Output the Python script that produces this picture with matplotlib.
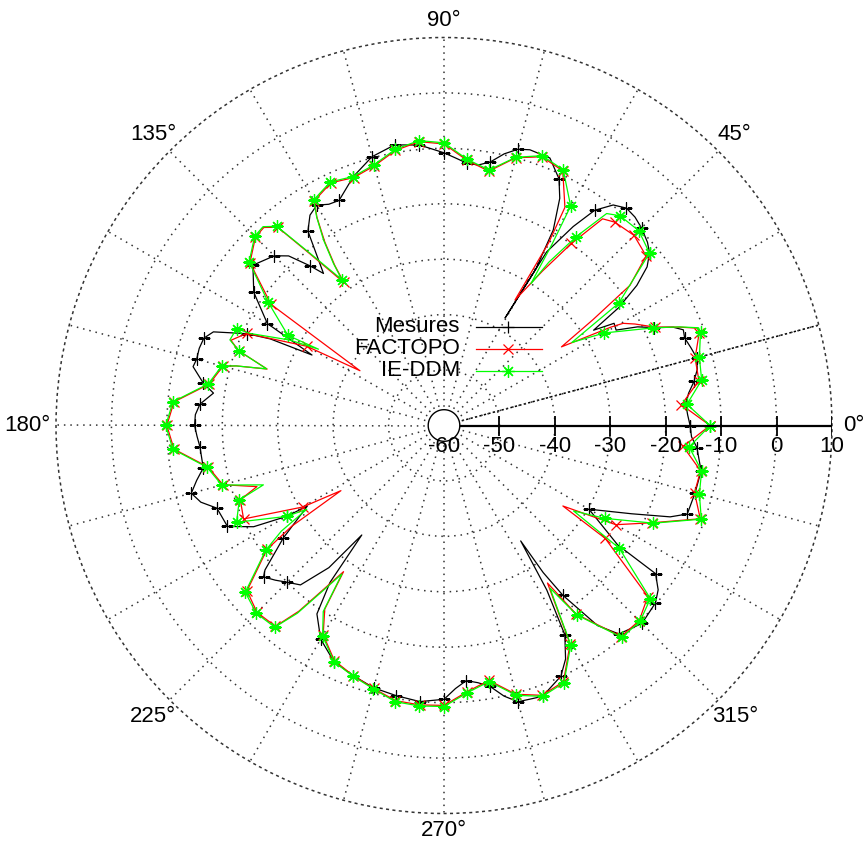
import numpy as np
import matplotlib
matplotlib.use("Agg")
import matplotlib.pyplot as plt
from matplotlib.transforms import offset_copy
from matplotlib.lines import Line2D

plt.rcParams['font.family'] = ['Liberation Sans', 'DejaVu Sans']

# ---------------- data (angle in degrees, level in dB) ----------------
theta_mes = [0, 2.5, 5, 7.5, 10, 12.5, 15, 17.5, 20, 21.8, 23.2, 25, 27, 29, 31, 32.5, 34, 36, 38, 40, 42, 45,
             47.5, 50, 52.5, 55, 57, 59.4, 60.4, 59.6, 60.8, 63, 65, 68.4, 72.7, 75, 77.5, 80, 82.5, 85, 87.5,
             90, 95, 100, 105, 110, 112.5, 115, 117.5, 120, 122.5, 125, 128.4, 130, 132.5, 135, 140, 145,
             150, 151.9, 153.5, 155, 157.9, 160, 162.5, 165, 166.8, 170, 172, 175, 177.5, 180, 182.5, 185,
             190, 192.5, 195, 197.5, 200, 205, 208, 210, 210.5, 215, 218.9, 220, 222.5, 225, 228, 231, 233.1,
             234, 236, 240, 245, 250, 255, 260, 265, 270, 272.5, 275, 277.5, 280, 282.5, 285, 290, 295, 297.5,
             300, 302, 303.6, 304, 305, 307.5, 310, 315, 320, 322.5, 325, 325.5, 330, 334.8, 338, 340, 345,
             350, 355, 357.4, 360]
db_mes = [-15.6, -16.0, -16.2, -15.5, -14.2, -13.2, -12.8, -13.3, -13.8, -13.5, -15, -18.2, -20.8, -24.5,
          -24.2, -28, -22, -17, -13.5, -11.6, -10.6, -9.6, -9.0, -8.8, -9.85, -12.6, -17.2, -23.6, -37.7,
          -27.3, -19.6, -14, -10.9, -8.1, -7.9, -8.4, -9.8, -11.7, -12.6, -12.5, -11.7, -10.8, -9.2, -8.6,
          -9.8, -12.2, -13.8, -15.2, -15.0, -14.1, -15.0, -17.2, -25, -22.4, -18.5, -16.7, -15, -18.1,
          -23.2, -33, -25, -20.8, -15.1, -13.9, -13.7, -13.8, -13.5, -15.9, -18, -15.8, -15.1, -15, -15.4,
          -15.8, -15.9, -14.3, -12.8, -14.0, -16.4, -16.9, -21.1, -27.2, -31.4, -24.6, -18.5, -17.5, -18.7,
          -20, -21.3, -27, -35.3, -25, -19, -15.5, -13, -12, -11, -10.5, -10, -10.6, -12.5, -13.8, -13.2,
          -12.2, -10.0, -8.4, -8, -10.1, -12.5, -16.4, -25, -35, -28, -22.6, -14.5, -10.9, -9.5, -10.2,
          -11.3, -13.4, -22, -29.8, -22.6, -16, -13.3, -13.1, -12.9, -14.2, -15.3, -15.6]

theta_fac = [0, 5, 10, 15, 20, 21, 22.7, 25, 28, 29.7, 30.5, 33.8, 35.4, 37, 40, 45, 50, 52.5, 55, 57.5,
             60.5, 60.2, 61, 65, 70, 75, 80, 85, 90, 95, 100, 105, 110, 115, 120, 121.4, 123, 124.3, 125,
             127.9, 130, 132.3, 135, 140, 145, 146.9, 150, 155, 158.2, 160, 162.3, 164, 165, 170, 175, 180,
             185, 190, 195, 198.1, 200, 205, 210, 212.3, 213.5, 215, 220, 225, 230, 232, 235.5, 237, 240, 245,
             250, 255, 260, 265, 270, 275, 280, 285, 290, 295, 300, 303.3, 305, 310, 315, 320, 325, 325.9,
             330, 335, 340, 345, 350, 355, 360]
db_fac = [-12, -17, -13.3, -13.1, -11, -11, -14, -18, -21, -22.8, -25, -34.5, -27, -18, -12.4, -11.5, -12.1,
          -13, -19.9, -27, -34, -22, -15, -9.3, -8.4, -10, -13.4, -12, -9.2, -8.6, -9.6, -11.5, -12.4, -11.7,
          -13.2, -16, -20.5, -25, -28.5, -21, -13.3, -11.7, -11.9, -14.3, -21.9, -41.9, -31.4, -20.7, -18.6,
          -20.6, -26.5, -21, -18.7, -17, -11.1, -10, -11.1, -16.8, -18.7, -24.5, -20.9, -20.1, -30.6, -38,
          -27, -21, -13.6, -12.3, -12.7, -17.5, -28, -20.5, -16.4, -13.2, -12.0, -10.9, -9.6, -9.4, -9.5,
          -11.8, -13.3, -9.8, -8.2, -9, -14.5, -26, -18.5, -10.3, -10.2, -12, -24.5, -34.1, -24.2, -18.5,
          -10.8, -13.2, -13, -16.7, -12]

theta_ie = [0, 5, 10, 15, 20, 21, 22.7, 25, 30, 33, 35, 40, 45, 50, 52.5, 55, 57.3, 58.5, 59.2, 60, 65, 70,
            75, 80, 85, 90, 95, 100, 105, 110, 115, 120, 121.4, 123, 124.3, 125, 127.9, 130, 132.3, 135, 140,
            145, 150, 148.7, 151, 154.6, 155, 158.2, 160, 162.3, 164, 165, 170, 175, 180, 185, 190, 195,
            198.2, 200, 205, 210, 211.4, 213, 215, 220, 225, 230, 232, 235.5, 237, 240, 245, 250, 255, 260,
            265, 270, 275, 280, 285, 290, 295, 300, 303.1, 305, 310, 315, 320, 325, 326.6, 330, 335, 340,
            345, 350, 355, 360]
db_ie = [-12, -16, -12.8, -12.3, -10.75, -10.8, -13.9, -18.3, -26.6, -32.5, -21.5, -11.6, -10.3, -10.6,
         -11.8, -18.4, -25, -30, -22, -14.3, -9.1, -8.2, -9.9, -13.2, -11.8, -9.0, -8.4, -9.4, -11.3, -12.2,
         -11.5, -13, -15.9, -20.1, -24.6, -27.9, -20.6, -13.1, -11.5, -11.7, -14.1, -21.3, -27.5, -33.5,
         -28.2, -21.3, -18.7, -18.4, -20.6, -26.4, -21, -18.5, -16.8, -10.9, -9.8, -10.9, -16.6, -18.5,
         -25.7, -20.7, -18.7, -27.2, -31, -25, -20.7, -13.2, -12.1, -12.5, -17, -27.5, -20, -16.2, -13,
         -11.9, -10.8, -9.4, -9.2, -9.3, -11.6, -13.1, -9.6, -8, -8.8, -14.25, -25, -18.3, -10.1, -10, -11.4,
         -21.4, -32, -26.5, -18.3, -10.6, -12.3, -12.8, -15.6, -12]

series_labels = ["Mesures", "FACTOPO", "IE-DDM"]
r_ticks = [-60, -50, -40, -30, -20, -10, 0, 10]
theta_labels = [0, 45, 90, 135, 180, 225, 270, 315]

# ---------------- figure ----------------
W, H = 867, 841
fig = plt.figure(figsize=(W / 100, H / 100), dpi=100)
cx, cy, R = 444.0, 425.5, 388.0
ax = fig.add_axes([(cx - R) / W, (H - cy - R) / H, 2 * R / W, 2 * R / H], projection='polar')
rmin, rmax = -60, 10
ax.set_rlim(rmin, rmax)

dot = (0, (1, 3.2))
ax.set_rgrids([-50, -40, -30, -20, -10, 0], labels=[''] * 6)
ax.set_thetagrids(np.arange(0, 360, 15), labels=[''] * 24)
ax.grid(True, linestyle=dot, color='#333333', linewidth=1.1)
ax.spines['polar'].set_linestyle(dot)
ax.spines['polar'].set_linewidth(1.1)
ax.spines['polar'].set_color('#333333')
ax.tick_params(length=0)

# denser dotted line at 15 deg
ax.plot(np.radians([15, 15]), [rmin, rmax], color='black', lw=1.1, ls=(0, (1.5, 1.5)), zorder=1)


def markidx(th):
    return [i for i, a in enumerate(th) if abs(a / 5.0 - round(a / 5.0)) < 1e-9]


ax.plot(np.radians(theta_mes), db_mes, color='black', lw=0.9, marker='+', ms=8, mew=0.9,
        markevery=markidx(theta_mes), zorder=3)
ax.plot(np.radians(theta_fac), db_fac, color='#ff0000', lw=0.9, marker='x', ms=6.5, mew=0.9,
        markevery=markidx(theta_fac), zorder=3)
ax.plot(np.radians(theta_ie), db_ie, color='#00ff00', lw=0.9, marker=(8, 2, 0), ms=9, mew=0.9,
        markevery=markidx(theta_ie), zorder=3)

# centre circle
rc = -57.15
tt = np.linspace(0, 2 * np.pi, 200)
ax.fill(tt, np.full_like(tt, rc), facecolor='white', edgecolor='black', lw=1.0, zorder=6)

# radial axis along 0 deg
ax.plot([0, 0], [rc, rmax], color='black', lw=1.6, zorder=5)
ax.plot(np.zeros(len(r_ticks) - 1), r_ticks[1:], ls='none', marker='|', ms=14, mew=1.3,
        color='black', zorder=5)
toff = offset_copy(ax.transData, fig=fig, x=0, y=-21.5, units='dots')
for v in r_ticks:
    ax.text(0, v, str(v), transform=toff, ha='center', va='center', fontsize=16, zorder=7, clip_on=False)

# angle labels
scale = R / (rmax - rmin)
lab_pos = {0: (399, 'left'), 45: (411, 'center'), 90: (405, 'center'), 135: (411, 'center'),
           180: (394, 'right'), 225: (412, 'center'), 270: (404.5, 'center'), 315: (412, 'center')}
for a in theta_labels:
    rp, ha = lab_pos[a]
    ax.text(np.radians(a), rmin + rp / scale, f"{a}°", ha=ha, va='center', fontsize=16,
            clip_on=False)

# legend (manual, gnuplot style)
leg_y = [326.7, 349.0, 371.0]
styles = [dict(color='black', marker='+', ms=8),
          dict(color='#ff0000', marker='x', ms=6.5),
          dict(color='#00ff00', marker=(8, 2, 0), ms=9)]
for lab, yy, st in zip(series_labels, leg_y, styles):
    fy = (H - yy) / H
    fig.text(460 / W, fy, lab, ha='right', va='center', fontsize=16)
    fig.add_artist(Line2D([476 / W, 541.7 / W], [fy, fy], color=st['color'], lw=0.9,
                          transform=fig.transFigure))
    fig.add_artist(Line2D([508 / W], [fy], color=st['color'], marker=st['marker'], ms=st['ms'],
                          mew=0.9, ls='none', transform=fig.transFigure))

fig.savefig("out.png", dpi=100)
